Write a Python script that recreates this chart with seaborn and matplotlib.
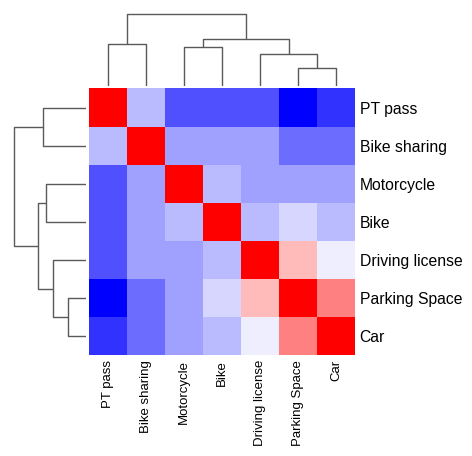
import numpy as np
import pandas as pd
import matplotlib
matplotlib.use("Agg")
import matplotlib.pyplot as plt
import seaborn as sns

plt.rcParams['font.family'] = ['Liberation Sans', 'DejaVu Sans']

labels = ['PT pass', 'Bike sharing', 'Motorcycle', 'Bike',
          'Driving license', 'Parking Space', 'Car']

# pairwise association values
pt_pass       = [1.00, 0.05, -0.26, -0.26, -0.26, -0.50, -0.35]
bike_sharing  = [0.05, 1.00, -0.03, -0.03, -0.03, -0.18, -0.18]
motorcycle    = [-0.26, -0.03, 1.00, 0.05, -0.03, -0.03, -0.03]
bike          = [-0.26, -0.03, 0.05, 1.00, 0.05, 0.13, 0.05]
driving_lic   = [-0.26, -0.03, -0.03, 0.05, 1.00, 0.45, 0.20]
parking_space = [-0.50, -0.18, -0.03, 0.13, 0.45, 1.00, 0.62]
car           = [-0.35, -0.18, -0.03, 0.05, 0.20, 0.62, 1.00]

# tree: (left, right, height)
merges = [
    (5, 6, 18),    # Parking Space + Car
    (4, 7, 33),    # Driving license + above
    (2, 3, 40),    # Motorcycle + Bike
    (0, 1, 43),    # PT pass + Bike sharing
    (9, 8, 48),
    (10, 11, 73),
]

corr = pd.DataFrame([pt_pass, bike_sharing, motorcycle, bike,
                     driving_lic, parking_space, car],
                    index=labels, columns=labels)

# build a scipy-style linkage matrix from the merges
n = len(labels)
sizes = [1] * n
link = []
for a, b, h in merges:
    cnt = sizes[a] + sizes[b]
    sizes.append(cnt)
    link.append([a, b, h, cnt])
link = np.array(link, dtype=float)

g = sns.clustermap(corr, cmap='bwr', row_linkage=link, col_linkage=link,
                   figsize=(4.67, 4.43), cbar_pos=None,
                   tree_kws={'linewidths': 1.0, 'colors': '#5a5a5a'})

W, H = 467, 443
g.ax_heatmap.set_position([86 / W, 1 - 354 / H, 267 / W, 267 / H])
g.ax_row_dendrogram.set_position([7.5 / W, 1 - 354 / H, 75.5 / W, 267 / H])
g.ax_col_dendrogram.set_position([86 / W, 1 - 85 / H, 267 / W, 76.5 / H])

ax = g.ax_heatmap
ax.set_xlabel('')
ax.set_ylabel('')
ax.tick_params(length=0, pad=3)
ax.tick_params(axis='y', labelsize=11.3)
ax.tick_params(axis='x', labelsize=9.5)
plt.setp(ax.get_xticklabels(), rotation=90)
plt.setp(ax.get_yticklabels(), rotation=0)

g.savefig('out.png', dpi=100)
